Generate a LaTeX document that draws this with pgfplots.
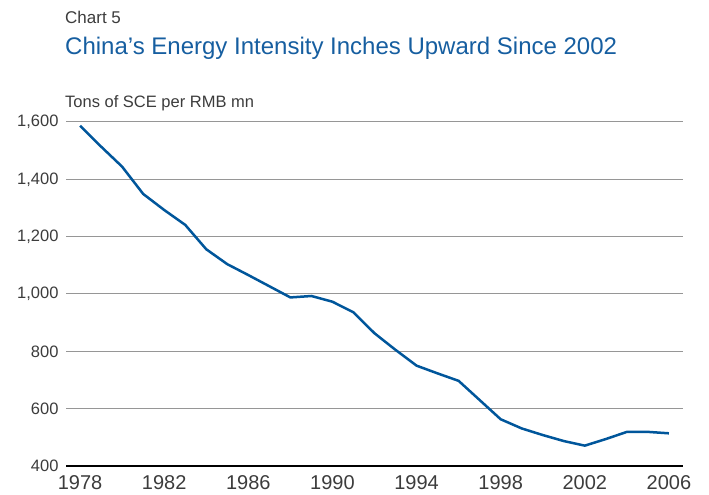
\documentclass[border=0pt]{standalone}
\usepackage{pgfplots}
\pgfplotsset{compat=1.18}
\usepackage{fontspec}
\setmainfont{Liberation Sans}
\definecolor{linecol}{RGB}{0,86,155}
\definecolor{titlecol}{RGB}{22,94,160}
\definecolor{txt}{RGB}{60,60,60}
\definecolor{gridc}{RGB}{150,150,150}
\begin{document}
\begin{tikzpicture}[x=1bp,y=1bp]
\path (0,0) rectangle (709,495);
\node[anchor=base west,inner sep=0,text=txt,font=\fontsize{17bp}{20bp}\selectfont] at (65,471) {Chart 5};
\node[anchor=base west,inner sep=0,text=titlecol,font=\fontsize{24bp}{28bp}\selectfont] at (65,440) {China’s Energy Intensity Inches Upward Since 2002};
\node[anchor=base west,inner sep=0,text=txt,font=\fontsize{16.5bp}{19bp}\selectfont] at (65,387) {Tons of SCE per RMB mn};
\begin{axis}[
  at={(66bp,29bp)}, anchor=south west,
  scale only axis, width=617bp, height=344bp,
  xmin=1977.33, xmax=2006.67, ymin=400, ymax=1600,
  xtick={1978,1982,...,2006},
  ytick={400,600,...,1600},
  axis x line*=bottom, axis y line*=left,
  x axis line style={black, line width=1.5bp, -},
  y axis line style={draw=none},
  major tick length=0pt,
  ymajorgrids, grid style={gridc, line width=1bp},
  xticklabel style={/pgf/number format/1000 sep={}, font=\fontsize{20bp}{23bp}\selectfont, text=txt, yshift=-6bp},
  yticklabel style={/pgf/number format/1000 sep={,}, font=\fontsize{16.5bp}{19bp}\selectfont, text=txt, xshift=-4bp},
  /pgf/number format/assume math mode=true,
  clip=false,
]
\addplot[linecol, line width=2.5bp] coordinates {
(1978,1587) (1979,1514) (1980,1444) (1981,1349) (1982,1293) (1983,1241)
(1984,1156) (1985,1104) (1986,1066) (1987,1027) (1988,988) (1989,993)
(1990,973) (1991,936) (1992,863) (1993,805) (1994,750) (1995,723)
(1996,697) (1997,630) (1998,563) (1999,531) (2000,508) (2001,487)
(2002,471) (2003,494) (2004,519) (2005,519) (2006,514)
};
\end{axis}
\end{tikzpicture}
\end{document}
